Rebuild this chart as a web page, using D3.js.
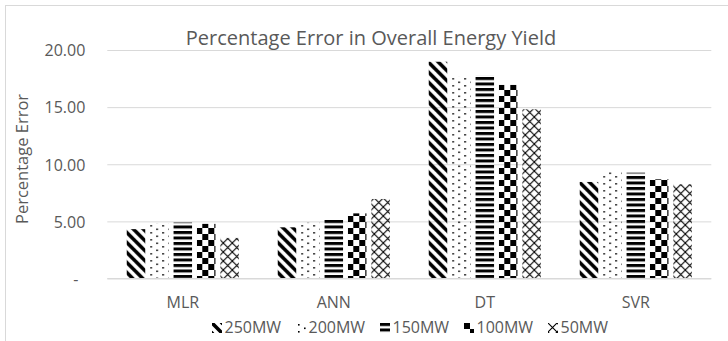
<!DOCTYPE html>
<html>
<head>
<meta charset="utf-8">
<script src="https://cdn.jsdelivr.net/npm/d3@7"></script>
<style>
  body { margin: 0; background: #fff; }
  svg { display: block; font-family: "Open Sans", sans-serif; }
</style>
</head>
<body>
<svg width="728" height="341"></svg>
<script>
// chart values
const categories = ["MLR", "ANN", "DT", "SVR"];
const seriesNames = ["250MW", "200MW", "150MW", "100MW", "50MW"];
const mw250 = [4.32, 4.48, 18.97, 8.45];
const mw200 = [4.85, 4.88, 17.66, 9.35];
const mw150 = [4.9, 5.2, 17.81, 9.26];
const mw100 = [4.78, 5.7, 16.94, 8.68];
const mw50 = [3.55, 6.96, 14.81, 8.25];
const yTicks = [0, 5, 10, 15, 20];

const seriesValues = [mw250, mw200, mw150, mw100, mw50];
const patternIds = ["p-diag", "p-dots", "p-hstripe", "p-check", "p-cross"];

const svg = d3.select("svg");
const textColor = "#595959";
const gridColor = "#d9d9d9";

// outer chart border (cropped on the right and bottom)
svg.append("rect")
  .attr("x", 5.5).attr("y", 5.5)
  .attr("width", 900).attr("height", 500)
  .attr("fill", "none").attr("stroke", gridColor);

// fill patterns
const defs = svg.append("defs");

const diag = defs.append("pattern").attr("id", "p-diag")
  .attr("patternUnits", "userSpaceOnUse").attr("width", 10).attr("height", 10);
diag.append("path")
  .attr("d", "M-1,-1L11,11M-1,9L1,11M9,-1L11,1")
  .attr("stroke", "#000").attr("stroke-width", 3.6);

const dots = defs.append("pattern").attr("id", "p-dots")
  .attr("patternUnits", "userSpaceOnUse").attr("width", 12).attr("height", 7);
dots.append("rect").attr("x", 2).attr("y", 1).attr("width", 1.6).attr("height", 1.6).attr("fill", "#000");
dots.append("rect").attr("x", 8).attr("y", 4.5).attr("width", 1.6).attr("height", 1.6).attr("fill", "#000");

const hs = defs.append("pattern").attr("id", "p-hstripe")
  .attr("patternUnits", "userSpaceOnUse").attr("width", 10).attr("height", 5.5);
hs.append("rect").attr("x", 0).attr("y", 0).attr("width", 10).attr("height", 3).attr("fill", "#000");

const chk = defs.append("pattern").attr("id", "p-check")
  .attr("patternUnits", "userSpaceOnUse").attr("width", 12).attr("height", 12);
chk.append("rect").attr("x", 0).attr("y", 0).attr("width", 6).attr("height", 6).attr("fill", "#000");
chk.append("rect").attr("x", 6).attr("y", 6).attr("width", 6).attr("height", 6).attr("fill", "#000");

const crs = defs.append("pattern").attr("id", "p-cross")
  .attr("patternUnits", "userSpaceOnUse").attr("width", 9).attr("height", 9);
crs.append("path")
  .attr("d", "M0,0L9,9M9,0L0,9")
  .attr("stroke", "#000").attr("stroke-width", 1.1).attr("fill", "none");

// scales
const plotLeft = 107.3, plotRight = 711.3, plotTop = 50, plotBottom = 278.5;

const x0 = d3.scaleBand()
  .domain(categories)
  .range([plotLeft, plotRight])
  .paddingInner(0.225)
  .paddingOuter(0.1125);

const x1 = d3.scaleBand()
  .domain(seriesNames)
  .range([0, x0.bandwidth()])
  .paddingInner(0.21)
  .paddingOuter(0.105);

const y = d3.scaleLinear()
  .domain([0, 20])
  .range([plotBottom, plotTop]);

// y axis with gridlines
const yAxis = svg.append("g")
  .attr("transform", `translate(${plotLeft},0)`)
  .call(d3.axisLeft(y)
    .tickValues(yTicks)
    .tickSize(-(plotRight - plotLeft))
    .tickPadding(22)
    .tickFormat(d => d === 0 ? "-" : d3.format(".2f")(d)));
yAxis.select(".domain").remove();
yAxis.selectAll(".tick line").attr("stroke", gridColor);
yAxis.selectAll(".tick text")
  .attr("fill", textColor)
  .attr("font-size", 16)
  .attr("font-family", "Open Sans")
  .attr("dy", "0.36em")
  .attr("x", d => d === 0 ? -29 : -22);

// bars
const groups = svg.append("g").selectAll("g")
  .data(categories)
  .join("g")
  .attr("transform", d => `translate(${x0(d)},0)`);

groups.selectAll("rect")
  .data((c, ci) => seriesNames.map((s, si) => ({ s, si, v: seriesValues[si][ci] })))
  .join("rect")
  .attr("x", d => x1(d.s))
  .attr("y", d => y(d.v))
  .attr("width", x1.bandwidth())
  .attr("height", d => y(0) - y(d.v))
  .attr("fill", d => `url(#${patternIds[d.si]})`);

// x axis
const xAxis = svg.append("g")
  .attr("transform", `translate(0,${plotBottom})`)
  .call(d3.axisBottom(x0).tickSize(0).tickPadding(18));
xAxis.select(".domain").attr("stroke", gridColor).attr("d", `M${plotLeft},0H${plotRight}`);
xAxis.selectAll(".tick text")
  .attr("fill", textColor)
  .attr("font-size", 16)
  .attr("font-family", "Open Sans");

// title
svg.append("text")
  .attr("x", 371).attr("y", 45)
  .attr("text-anchor", "middle")
  .attr("fill", textColor)
  .attr("font-size", 20)
  .text("Percentage Error in Overall Energy Yield");

// y axis title
svg.append("text")
  .attr("transform", "translate(28,159) rotate(-90)")
  .attr("text-anchor", "middle")
  .attr("fill", textColor)
  .attr("font-size", 16.5)
  .text("Percentage Error");

// legend
const legend = svg.append("g").selectAll("g")
  .data(seriesNames)
  .join("g")
  .attr("transform", (d, i) => `translate(${212 + i * 84},323)`);

legend.append("rect")
  .attr("width", 10).attr("height", 10)
  .attr("fill", (d, i) => `url(#${patternIds[i]})`);

legend.append("text")
  .attr("x", 12.5).attr("y", 10)
  .attr("fill", textColor)
  .attr("font-size", 16)
  .text(d => d);
</script>
</body>
</html>
